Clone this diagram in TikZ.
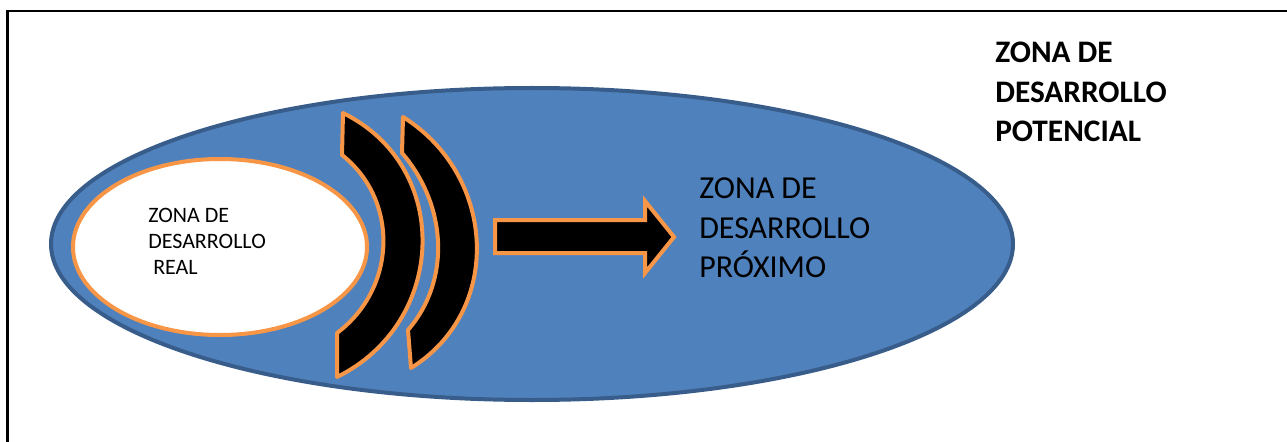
\documentclass[tikz,border=0pt]{standalone}
\usepackage{fontspec}
\setmainfont{Carlito}
\definecolor{zblue}{HTML}{4F81BD}
\definecolor{zblueline}{HTML}{385D8A}
\definecolor{zorange}{HTML}{F79646}
\begin{document}
\begin{tikzpicture}[x=0.75pt,y=-0.75pt,
  zone/.style={fill=zblue, draw=zblueline, line width=3pt},
  realzone/.style={fill=white, draw=zorange, line width=3pt},
  blockarc/.style={fill=black, draw=zorange, line width=3pt, line join=round},
  arrowshape/.style={fill=black, draw=zorange, line width=3pt, line join=miter},
  smalltext/.style={font=\fontsize{16.5}{19}\selectfont, anchor=base west, inner sep=0pt},
  midtext/.style={font=\fontsize{24}{28}\selectfont, anchor=base west, inner sep=0pt},
  bigtext/.style={font=\bfseries\fontsize{23.5}{28}\selectfont, anchor=base west, inner sep=0pt}]
\useasboundingbox (0,0) rectangle (1287,442);
% frame
\draw[line width=2pt] (7.5,442) -- (7.5,11) -- (1287,11);
% potential zone
\path[zone] (532,244) ellipse [x radius=481, y radius=156];
% real zone
\path[realzone] (220,247) ellipse [x radius=147, y radius=88];
% arcs
\path[blockarc] (343,113) .. controls (453,167) and (447,323) .. (337,377)
  -- (337,333) .. controls (397,288) and (399,200) .. (342,155) -- cycle;
\path[blockarc] (403,117) .. controls (496,175) and (504,310) .. (411,368)
  -- (408,330) .. controls (452,279) and (446,204) .. (402,153) -- cycle;
% arrow
\path[arrowshape] (495,220) -- (645,220) -- (645,201) -- (674,237) -- (645,273)
  -- (645,253) -- (495,253) -- cycle;
% texts
\node[smalltext] (r1) at (148,222) {ZONA DE};
\node[smalltext] (r2) at (148,248) {DESARROLLO};
\node[smalltext] (r3) at (153,274) {REAL};
\node[midtext] (p1) at (699,198) {ZONA DE};
\node[midtext] (p2) at (699,238) {DESARROLLO};
\node[midtext] (p3) at (699,277) {PRÓXIMO};
\node[bigtext] (t1) at (995,63) {ZONA DE};
\node[bigtext] (t2) at (995,103) {DESARROLLO};
\node[bigtext] (t3) at (995,142) {POTENCIAL};
\end{tikzpicture}
\end{document}
